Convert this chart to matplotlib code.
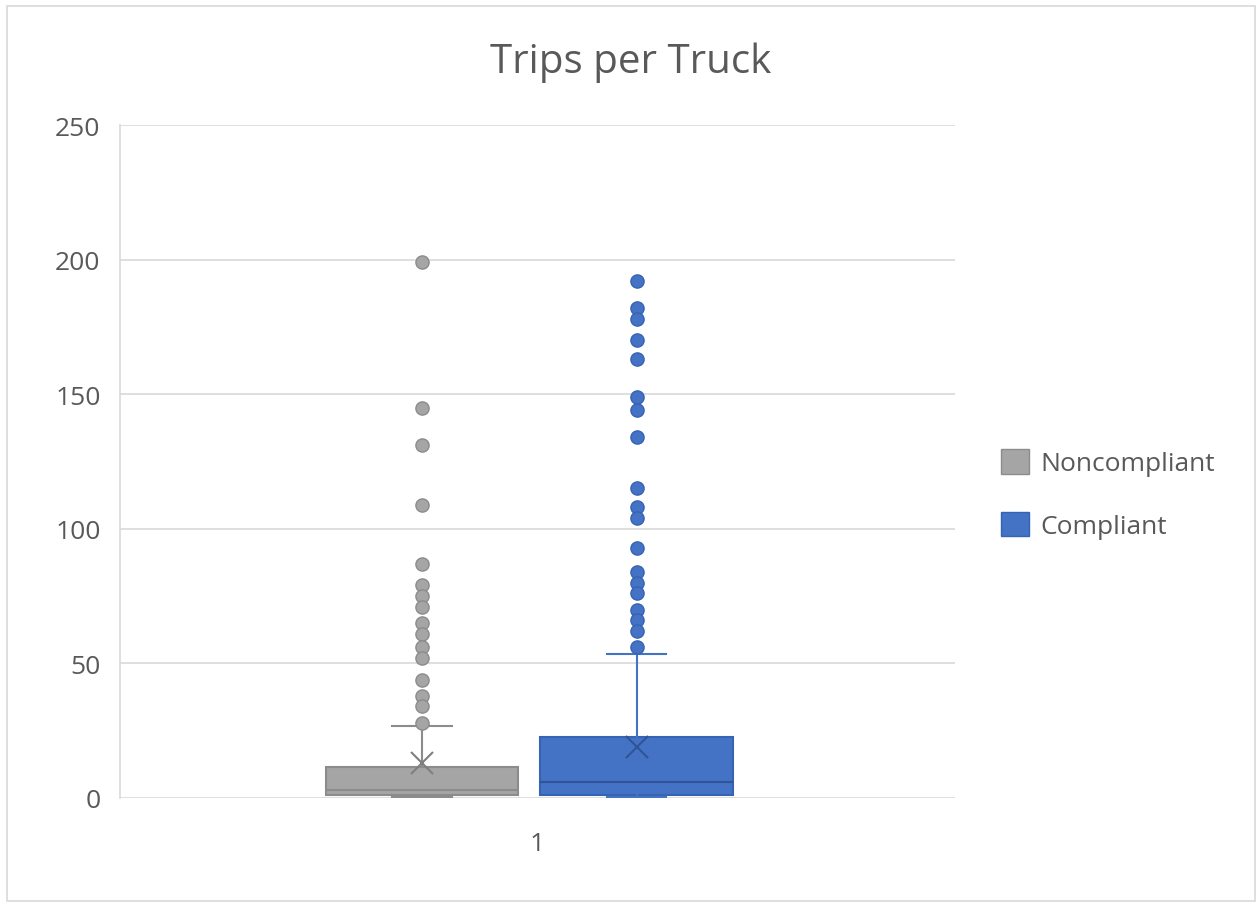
import matplotlib
matplotlib.use('Agg')
import matplotlib.pyplot as plt
from matplotlib.patches import Patch, Rectangle

plt.rcParams['font.family'] = ['Open Sans', 'DejaVu Sans']

# box summary values
groups   = ['Noncompliant', 'Compliant']
q1       = [1.2, 1.2]
medians  = [3.1, 5.8]
q3       = [11.6, 22.8]
whislo   = [0.5, 0.5]
whishi   = [26.9, 53.5]
means    = [13.0, 19.1]

# outliers above the upper whisker
out_non = [199, 145, 131, 109, 87, 79, 75, 71, 65, 61, 56, 52, 44, 38, 34, 28]
out_com = [192, 182, 178, 170, 163, 149, 144, 134, 115, 108, 104, 93,
           84, 80, 76, 70, 66, 62, 56]
outliers = [out_non, out_com]

yticks = [0, 50, 100, 150, 200, 250]

fill  = ['#a5a5a5', '#4472c4']
edge  = ['#8c8c8c', '#3763b3']
dark  = ['#7f7f7f', '#2f5597']
txt = '#595959'

W, H = 1257, 904
fig = plt.figure(figsize=(W/100, H/100), dpi=100)
fig.patches.append(Rectangle((7/W, 2/H), 1248/W, 895/H, transform=fig.transFigure,
                             fill=False, edgecolor='#d9d9d9', lw=1.2))
ax = fig.add_axes([120/W, 1-799/H, 835/W, 673/H])

stats = []
for i in range(2):
    stats.append(dict(label=groups[i], q1=q1[i], med=medians[i], q3=q3[i],
                      whislo=whislo[i], whishi=whishi[i], mean=means[i],
                      fliers=outliers[i]))

pos = [0.3617, 0.6186]
art = ax.bxp(stats, positions=pos, widths=0.231, capwidths=0.071,
             patch_artist=True, showmeans=True, showfliers=True, manage_ticks=False)

for i in range(2):
    art['boxes'][i].set(facecolor=fill[i], edgecolor=edge[i], linewidth=1.5)
    art['medians'][i].set(color=dark[i] if i else edge[i], linewidth=1.5)
    for ln in art['whiskers'][2*i:2*i+2] + art['caps'][2*i:2*i+2]:
        ln.set(color=edge[i] if i == 0 else fill[i], linewidth=1.5)
    art['means'][i].set(marker='x', markersize=16, markeredgewidth=1.5,
                        markeredgecolor=dark[i], markerfacecolor='none')
    art['fliers'][i].set(marker='o', markersize=9.5, markerfacecolor=fill[i],
                         markeredgecolor=edge[i], markeredgewidth=1)

ax.set_xlim(0, 1)
ax.set_ylim(0, 250)
ax.set_yticks(yticks)
ax.set_xticks([0.5])
ax.set_xticklabels(['1'])
ax.grid(axis='y', color='#d9d9d9', linewidth=1.2)
ax.set_axisbelow(True)
for s in ['top', 'right', 'bottom']:
    ax.spines[s].set_visible(False)
ax.spines['left'].set_color('#d9d9d9')
ax.spines['left'].set_linewidth(1.2)
ax.tick_params(axis='both', length=0, labelsize=19, colors=txt)
ax.tick_params(axis='y', pad=14)
ax.tick_params(axis='x', pad=24)

fig.text(631/W, 1-63/H, 'Trips per Truck', ha='center', va='center',
         fontsize=29, color=txt)

handles = [Patch(facecolor=fill[i], edgecolor=edge[i], linewidth=1) for i in range(2)]
fig.legend(handles, groups, loc='center left', bbox_to_anchor=(1001/W, 1-495/H),
           frameon=False, fontsize=19, labelcolor=txt, handlelength=1.06,
           handleheight=1.06, handletextpad=0.45, labelspacing=1.35,
           borderpad=0, borderaxespad=0)

fig.savefig('out.png', dpi=100)
